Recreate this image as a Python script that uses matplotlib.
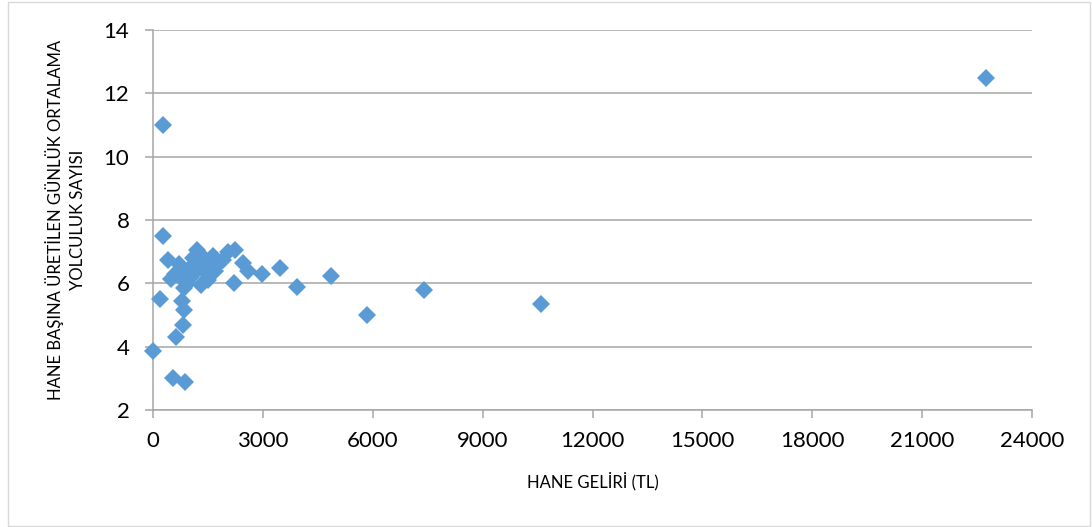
import matplotlib
matplotlib.use("Agg")
import matplotlib.pyplot as plt
from matplotlib.patches import Rectangle

# =====================================================
# DATA
# =====================================================
income = [0, 200, 275, 275, 400, 500, 550, 600, 640, 700,
          750, 780, 830, 840, 850, 870, 900, 950, 1000, 1050,
          1100, 1150, 1200, 1250, 1300, 1350, 1400, 1500, 1550, 1650,
          1700, 1800, 1900, 2050, 2200, 2250, 2450, 2600, 2980, 3460,
          3930, 4870, 5850, 7400, 10600, 22750]

trips = [3.85, 5.5, 11.0, 7.5, 6.75, 6.15, 3.0, 6.3, 4.3, 6.6,
         6.2, 5.45, 4.7, 5.15, 5.85, 2.9, 6.4, 6.0, 6.5, 6.2,
         6.8, 6.35, 7.05, 6.6, 5.95, 6.45, 6.8, 6.1, 6.5, 6.85,
         6.4, 6.65, 6.75, 7.0, 6.0, 7.05, 6.65, 6.4, 6.3, 6.5,
         5.9, 6.22, 5.0, 5.8, 5.35, 12.5]

x_ticks = [0, 3000, 6000, 9000, 12000, 15000, 18000, 21000, 24000]
y_ticks = [2, 4, 6, 8, 10, 12, 14]

# =====================================================
# FIGURE
# =====================================================
plt.rcParams['font.family'] = ['Lato', 'DejaVu Sans']

fig = plt.figure(figsize=(10.92, 5.27), dpi=100)
ax = fig.add_axes([153 / 1092, 1 - 410 / 527, 879 / 1092, 380 / 527])

ax.plot(income, trips, linestyle="none", marker="D", markersize=9.5,
        color="#5B9BD5", markeredgewidth=0, clip_on=False, zorder=3)

ax.set_xlim(0, 24000)
ax.set_ylim(2, 14)
ax.set_xticks(x_ticks)
ax.set_yticks(y_ticks)

ax.grid(True, axis="y", color="#A6A6A6", linewidth=1.1)
ax.set_axisbelow(True)

for side in ["top", "right"]:
    ax.spines[side].set_visible(False)
for side in ["left", "bottom"]:
    ax.spines[side].set_color("#A6A6A6")
    ax.spines[side].set_linewidth(1.1)

ax.tick_params(axis="both", colors="#A6A6A6", length=6, width=1.1,
               labelcolor="black", labelsize=16)
ax.tick_params(axis="y", pad=11)
ax.tick_params(axis="x", pad=9)

ax.set_xlabel("HANE GELİRİ (TL)", fontsize=12, labelpad=15)
ax.set_ylabel("HANE BAŞINA ÜRETİLEN GÜNLÜK ORTALAMA\nYOLCULUK SAYISI",
              fontsize=12, labelpad=13, linespacing=1.4)

# chart area border
fig.patches.append(Rectangle((8 / 1092, 1 / 527), 1082 / 1092, 524 / 527,
                             transform=fig.transFigure, fill=False,
                             edgecolor="#D9D9D9", linewidth=1.0))

fig.savefig("out.png", dpi=100)
